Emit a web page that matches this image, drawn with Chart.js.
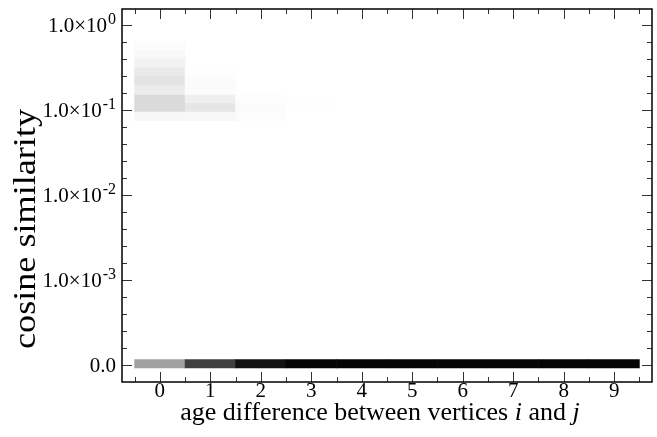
<!DOCTYPE html>
<html>
<head>
<meta charset="utf-8">
<script src="https://cdn.jsdelivr.net/npm/chart.js@4.4.0/dist/chart.umd.min.js"></script>
<style>
  html, body { margin: 0; padding: 0; background: #fff; }
  #wrap { width: 657px; height: 437px; }
</style>
</head>
<body>
<div id="wrap"><canvas id="heat" width="657" height="437"></canvas></div>
<script>
// age difference between vertices (x categories)
const ageDiff = [0, 1, 2, 3, 4, 5, 6, 7, 8, 9];
// log10(cosine similarity) edges of the non-zero bins
const binLow  = [-0.30, -0.40, -0.50, -0.60, -0.71, -0.82, -0.92, -1.02, -1.13];
const binHigh = [-0.20, -0.30, -0.40, -0.50, -0.60, -0.71, -0.82, -0.92, -1.02];
// fraction of pairs in each bin (rows) per age difference (columns)
const density = [
  [0.012, 0,     0,     0,     0, 0, 0, 0, 0, 0],
  [0.027, 0,     0,     0,     0, 0, 0, 0, 0, 0],
  [0.051, 0,     0,     0,     0, 0, 0, 0, 0, 0],
  [0.086, 0.004, 0,     0,     0, 0, 0, 0, 0, 0],
  [0.106, 0.012, 0,     0,     0, 0, 0, 0, 0, 0],
  [0.075, 0.016, 0,     0,     0, 0, 0, 0, 0, 0],
  [0.145, 0.063, 0.008, 0,     0, 0, 0, 0, 0, 0],
  [0.145, 0.098, 0.016, 0.004, 0, 0, 0, 0, 0, 0],
  [0.031, 0.027, 0.012, 0,     0, 0, 0, 0, 0, 0]
];
// the "0.0" row (similarity exactly zero)
const zeroLow = -4.04;
const zeroHigh = -3.94;
const zeroDensity = [0.37, 0.75, 0.93, 0.98, 0.98, 0.98, 0.98, 0.98, 0.98, 0.98];
// y tick labels at log10 positions
const yTickPos  = [-4, -3, -2, -1, 0];
const yTickBase = ["0.0", "1.0×10", "1.0×10", "1.0×10", "1.0×10"];
const yTickExp  = ["", "-3", "-2", "-1", "0"];

const FONT = "'Liberation Serif', 'DejaVu Serif', serif";

function shade(d) {
  const v = Math.round(255 * (1 - d));
  return `rgb(${v},${v},${v})`;
}

const barStyle = {
  type: "bar",
  backgroundColor: (ctx) => shade(ctx.raw.d),
  borderWidth: 0,
  barPercentage: 1,
  categoryPercentage: 1,
  grouped: false,
};

const datasets = [];
binLow.forEach((lo, r) => {
  const pts = [];
  ageDiff.forEach((a, c) => {
    if (density[r][c] > 0) pts.push({ x: a, y: [lo, binHigh[r]], d: density[r][c] });
  });
  datasets.push(Object.assign({ label: "bin " + r, data: pts }, barStyle));
});
datasets.push(Object.assign({
  label: "zero",
  data: ageDiff.map((a, c) => ({ x: a, y: [zeroLow, zeroHigh], d: zeroDensity[c] })),
}, barStyle));

// frame, inward ticks on all sides, superscript y labels and both axis titles
const framePlugin = {
  id: "frame",
  afterDatasetsDraw(chart) {
    const { ctx, chartArea: a, scales: { x, y } } = chart;
    ctx.save();
    ctx.strokeStyle = "#333";
    ctx.lineWidth = 1;
    ctx.beginPath();
    for (let v = -0.5; v <= 9.5; v += 0.5) {
      const px = Math.round(x.getPixelForValue(v)) + 0.5;
      const len = Number.isInteger(v) ? 10 : 5;
      ctx.moveTo(px, a.bottom); ctx.lineTo(px, a.bottom - len);
      ctx.moveTo(px, a.top); ctx.lineTo(px, a.top + len);
    }
    for (let k = -20; k <= 0; k++) {
      const v = k / 5;
      const py = Math.round(y.getPixelForValue(v)) + 0.5;
      const len = k % 5 === 0 ? 10 : 5;
      ctx.moveTo(a.left, py); ctx.lineTo(a.left + len, py);
      ctx.moveTo(a.right, py); ctx.lineTo(a.right - len, py);
    }
    ctx.stroke();

    ctx.strokeStyle = "#000";
    ctx.lineWidth = 1.5;
    ctx.strokeRect(a.left, a.top, a.right - a.left, a.bottom - a.top);

    ctx.fillStyle = "#000";
    ctx.textBaseline = "alphabetic";
    ctx.textAlign = "right";
    const rightEdge = a.left - 6;
    yTickPos.forEach((p, i) => {
      const py = y.getPixelForValue(p);
      ctx.font = "16px " + FONT;
      const ew = yTickExp[i] ? ctx.measureText(yTickExp[i]).width : 0;
      if (ew) ctx.fillText(yTickExp[i], rightEdge, py - 1);
      ctx.font = "21px " + FONT;
      ctx.fillText(yTickBase[i], rightEdge - ew - (ew ? 1 : 0), py + 7);
    });

    // x title with italic vertex names
    const parts = [
      ["age difference between vertices ", ""],
      ["i", "italic "],
      [" and ", ""],
      ["j", "italic "],
    ];
    let total = 0;
    parts.forEach(([t, s]) => { ctx.font = s + "26px " + FONT; total += ctx.measureText(t).width; });
    let tx = (a.left + a.right) / 2 - 7 - total / 2;
    ctx.textAlign = "left";
    parts.forEach(([t, s]) => {
      ctx.font = s + "26px " + FONT;
      ctx.fillText(t, tx, 420);
      tx += ctx.measureText(t).width;
    });

    // y title
    ctx.save();
    ctx.translate(27, 229);
    ctx.rotate(-Math.PI / 2);
    ctx.font = "32px " + FONT;
    const w = ctx.measureText("cosine similarity").width;
    ctx.scale(240 / w, 1);
    ctx.textAlign = "center";
    ctx.textBaseline = "middle";
    ctx.fillText("cosine similarity", 0, 0);
    ctx.restore();

    ctx.restore();
  },
};

new Chart(document.getElementById("heat").getContext("2d"), {
  data: { datasets },
  plugins: [framePlugin],
  options: {
    responsive: false,
    animation: false,
    devicePixelRatio: 1,
    layout: { padding: { top: 9, right: 5, left: 0, bottom: 0 } },
    plugins: { legend: { display: false }, tooltip: { enabled: false } },
    scales: {
      x: {
        type: "linear",
        offset: false,
        min: -0.75,
        max: 9.75,
        grid: { display: false, drawTicks: false },
        border: { display: false },
        afterBuildTicks: (s) => { s.ticks = ageDiff.map((v) => ({ value: v })); },
        afterFit: (s) => { s.height = 55; },
        ticks: {
          autoSkip: false,
          maxRotation: 0,
          padding: -3,
          color: "#000",
          font: { family: FONT, size: 21 },
          callback: (v) => String(v),
        },
      },
      y: {
        type: "linear",
        min: -4.205,
        max: 0.185,
        grid: { display: false, drawTicks: false },
        border: { display: false },
        ticks: { display: false },
        afterFit: (s) => { s.width = 122; },
      },
    },
  },
});
</script>
</body>
</html>
